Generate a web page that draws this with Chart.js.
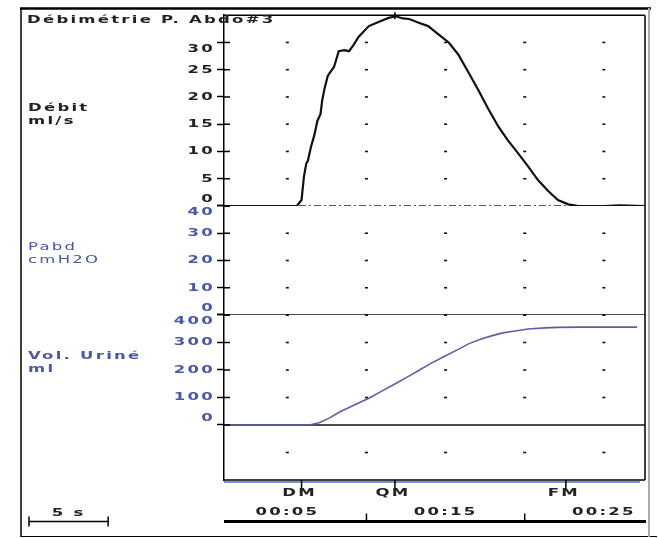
<!DOCTYPE html>
<html>
<head>
<meta charset="utf-8">
<script src="https://cdn.jsdelivr.net/npm/chart.js@4.4.0/dist/chart.umd.min.js"></script>
<style>
  html, body { margin: 0; padding: 0; background: #fff; }
  canvas { display: block; }
</style>
</head>
<body>
<canvas id="chart" width="659" height="538"></canvas>
<script>
// time axis in seconds
const flowTime = [1, 5.6, 5.9, 6.05, 6.2, 6.3, 6.5, 6.7, 6.9, 7.1, 7.2, 7.35, 7.55, 7.65, 7.95, 8.25, 8.6, 8.9, 9.2, 9.5, 10.15, 10.8, 11.4, 11.85, 12.3, 12.7, 13.3, 13.9, 14.55, 15.2, 15.8, 16.45, 17.1, 17.7, 18.35, 18.95, 19.6, 20.2, 20.85, 21.5, 22.1, 22.75, 23.4, 25, 26, 27.6];
const flowRate = [0, 0, 1.1, 5.4, 7.8, 8.3, 10.9, 12.9, 15.6, 16.9, 19.3, 21.5, 23.8, 24.3, 25.5, 28.4, 28.6, 28.4, 29.6, 31, 33, 33.8, 34.5, 34.8, 34.4, 34.3, 33.6, 33, 31.5, 30, 27.8, 24.5, 21.1, 17.8, 14.5, 12, 9.6, 7.3, 4.7, 2.7, 1.1, 0.3, 0, 0, 0.1, 0];

const volTime = [1, 6.4, 7.0, 7.65, 8.3, 9.2, 10.15, 11.0, 11.85, 12.6, 13.3, 14.1, 15.0, 15.8, 16.45, 17.2, 17.9, 18.6, 19.4, 20.2, 21.3, 22.1, 23.4, 27.1];
const volValue = [0, 0, 8, 25, 47, 72, 97, 124, 151, 175, 198, 225, 252, 275, 295, 312, 324, 335, 342, 349, 353, 355, 356, 356];

const pabdTime = [1, 27.6];
const pabdValue = [0, 0];

const flowTicks = [0, 5, 10, 15, 20, 25, 30];
const pabdTicks = [0, 10, 20, 30, 40];
const volTicks = [0, 100, 200, 300, 400];
const volDotRows = [-100, 100, 200, 300, 400];

const gridTimes = [5, 10, 15, 20, 25];
const timeLabels = ['00:05', '00:15', '00:25'];
const timeLabelAt = [5, 15, 25];
const timeMarks = [10, 20];
const eventLabels = ['DM', 'QM', 'FM'];
const eventTimes = [5.9, 11.8, 22.6];
const qmax = 34.8;

const INK = '#222';
const BLUE = '#4b58a8';
const SPACING = '1.5px';
const STRETCH = 1.5; // the printout font is very wide

Chart.defaults.font.family = "'DejaVu Sans', sans-serif";

function pts(xs, ys) {
  return xs.map((x, i) => ({ x: x, y: ys[i] }));
}

// widen every piece of text drawn on this canvas, ticks included
function widenText(ctx) {
  const fill = ctx.fillText;
  ctx.fillText = function (str, x, y) {
    this.save();
    this.letterSpacing = SPACING;
    this.translate(x, y);
    this.scale(STRETCH, 1);
    fill.call(this, str, 0, 0);
    this.restore();
  };
}

// first and last label of each panel are nudged inside it (blank line trick)
function yAxis(min, max, ticks, weight, stackWeight, color) {
  return {
    type: 'linear', position: 'left', stack: 'panels', weight, stackWeight, min, max,
    afterFit: s => { s.width = 224; },
    afterBuildTicks: s => { s.ticks = ticks.map(v => ({ value: v })); },
    border: { color: '#000', width: 1.5 },
    grid: { drawOnChartArea: false, tickLength: 7, tickColor: '#000', tickWidth: 1.5 },
    ticks: {
      color, padding: 2, autoSkip: false, font: { size: 11, weight: 'bold' },
      callback: v => {
        if (v === ticks[0]) return [String(v), ''];
        if (v === ticks[ticks.length - 1]) return ['', String(v)];
        return String(v);
      }
    }
  };
}

function text(ctx, str, x, y, color, align, weight) {
  ctx.save();
  ctx.font = (weight || 'bold') + " 11px 'DejaVu Sans'";
  ctx.fillStyle = color;
  ctx.textAlign = align || 'left';
  ctx.textBaseline = 'middle';
  ctx.fillText(str, x, y);
  ctx.restore();
}

function line(ctx, x0, y0, x1, y1, w, color) {
  ctx.beginPath();
  ctx.lineWidth = w;
  ctx.strokeStyle = color || '#000';
  ctx.moveTo(x0, y0);
  ctx.lineTo(x1, y1);
  ctx.stroke();
}

const decor = {
  id: 'decor',
  beforeInit(chart) {
    widenText(chart.ctx);
  },
  afterDraw(chart) {
    const ctx = chart.ctx;
    const a = chart.chartArea;
    const x = chart.scales.x;
    const yF = chart.scales.yF, yP = chart.scales.yP, yV = chart.scales.yV;
    ctx.save();

    // dotted grid at the intersections
    ctx.fillStyle = '#111';
    const rows = [[yF, flowTicks.slice(1)], [yP, pabdTicks.slice(0, -1)], [yV, volDotRows]];
    rows.forEach(([s, vals]) => {
      vals.forEach(v => {
        const py = s.getPixelForValue(v);
        gridTimes.forEach(t => {
          ctx.fillRect(x.getPixelForValue(t) - 1.5, py - 0.8, 3, 1.6);
        });
      });
    });

    // ticks crossing into the plot
    [[yF, flowTicks], [yP, pabdTicks], [yV, volTicks]].forEach(([s, vals]) => {
      vals.forEach(v => {
        const py = s.getPixelForValue(v);
        line(ctx, a.left, py, a.left + 6, py, 1.5);
      });
    });

    // Qmax mark on the curve
    const qx = x.getPixelForValue(eventTimes[1]);
    const qy = yF.getPixelForValue(qmax);
    line(ctx, qx, qy - 4, qx, qy + 3, 1.5);

    // plot frame
    line(ctx, a.left, a.top, a.right, a.top, 1.5);
    line(ctx, a.right, a.top, a.right, a.bottom, 1.5);
    line(ctx, a.left, a.bottom, a.right, a.bottom, 1.5);
    line(ctx, a.left, a.bottom + 2, a.right - 5, a.bottom + 2, 1.5, '#5566c0');

    // outer frame
    line(ctx, 20, 8.5, 651, 8.5, 2.5);
    line(ctx, 21, 8, 21, 537, 1.5);
    line(ctx, 21, 536.5, 657, 536.5, 1.2);
    line(ctx, 649, 8, 649, 537, 2, '#aaa');

    // event markers
    eventTimes.forEach((t, i) => {
      const px = x.getPixelForValue(t);
      line(ctx, px, a.bottom, px, a.bottom + 8, 1.5);
      text(ctx, eventLabels[i], px - 2, a.bottom + 13, INK, 'center');
    });

    // time bar
    const barY = 521.5;
    line(ctx, a.left, barY, a.right + 1, barY, 3);
    timeMarks.forEach(t => {
      const px = x.getPixelForValue(t);
      line(ctx, px, barY - 8, px, barY, 1.5);
    });
    timeLabels.forEach((lab, i) => {
      text(ctx, lab, x.getPixelForValue(timeLabelAt[i]), barY - 9, INK, 'center');
    });

    // 5 s scale bar
    const sx0 = 29;
    const sx1 = sx0 + x.getPixelForValue(6) - x.getPixelForValue(1);
    line(ctx, sx0, barY, sx1, barY, 1.5);
    line(ctx, sx0, barY - 5, sx0, barY + 5, 1.5);
    line(ctx, sx1, barY - 5, sx1, barY + 5, 1.5);
    text(ctx, '5 s', (sx0 + sx1) / 2, barY - 8, INK, 'center');

    // channel names
    let ly = yF.getPixelForValue(18);
    text(ctx, 'Débit', 28, ly, INK);
    text(ctx, 'ml/s', 28, ly + 13, INK);
    ly = yP.getPixelForValue(25);
    text(ctx, 'Pabd', 28, ly, BLUE, 'left', 'normal');
    text(ctx, 'cmH2O', 28, ly + 13, BLUE, 'left', 'normal');
    ly = yV.getPixelForValue(250);
    text(ctx, 'Vol. Uriné', 28, ly, BLUE);
    text(ctx, 'ml', 28, ly + 13, BLUE);

    text(ctx, 'Débimétrie P. Abdo#3', 27, 20, INK);
    ctx.restore();
  }
};

new Chart(document.getElementById('chart'), {
  type: 'line',
  data: {
    datasets: [
      { label: 'Débit', data: pts(flowTime, flowRate), yAxisID: 'yF', borderColor: '#111', borderWidth: 2.2 },
      { label: 'zéro', data: pts([1, 27.6], [0, 0]), yAxisID: 'yF', borderColor: '#222', borderWidth: 1.4, borderDash: [7, 3, 2, 3] },
      { label: 'Pabd', data: pts(pabdTime, pabdValue), yAxisID: 'yP', borderColor: '#111', borderWidth: 1.5 },
      { label: 'Vol. Uriné', data: pts(volTime, volValue), yAxisID: 'yV', borderColor: '#5b5fa8', borderWidth: 1.6 },
      { label: 'zéro vol', data: pts([1, 27.6], [0, 0]), yAxisID: 'yV', borderColor: '#111', borderWidth: 1.5 }
    ]
  },
  options: {
    responsive: false,
    animation: false,
    layout: { padding: { left: 0, right: 14, top: 11, bottom: 58 } },
    elements: { point: { radius: 0 }, line: { tension: 0 } },
    plugins: { legend: { display: false }, tooltip: { enabled: false } },
    scales: {
      x: { type: 'linear', min: 1, max: 27.6, display: false },
      yF: yAxis(0, 35, flowTicks, 3, 192.5, INK),
      yP: yAxis(0, 40, pabdTicks, 2, 110, BLUE),
      yV: yAxis(-200, 400, volTicks, 1, 166.5, BLUE)
    }
  },
  plugins: [decor]
});
</script>
</body>
</html>
